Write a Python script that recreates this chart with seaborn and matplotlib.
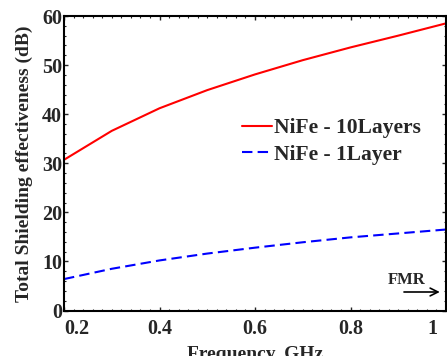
import matplotlib
matplotlib.use("Agg")
import matplotlib.pyplot as plt
import matplotlib.transforms as mtransforms
from matplotlib.ticker import MultipleLocator
import seaborn as sns
import pandas as pd

freq = [0.2, 0.3, 0.4, 0.5, 0.6, 0.7, 0.8, 0.9, 1.0]
se_10layers = [30.7, 36.6, 41.2, 44.9, 48.1, 51.0, 53.6, 56.0, 58.5]
se_1layer = [6.4, 8.5, 10.2, 11.6, 12.8, 13.9, 14.9, 15.7, 16.5]
labels = ["NiFe - 10Layers", "NiFe - 1Layer"]
xticks = [0.2, 0.4, 0.6, 0.8, 1.0]
xticklabels = ["0.2", "0.4", "0.6", "0.8", "1"]
yticks = [0, 10, 20, 30, 40, 50, 60]

sns.set_style("ticks")
plt.rcParams["font.family"] = ["Liberation Serif", "DejaVu Serif"]
plt.rcParams["font.weight"] = "bold"
plt.rcParams["axes.labelweight"] = "bold"

df10 = pd.DataFrame({"f": freq, "se": se_10layers})
df1 = pd.DataFrame({"f": freq, "se": se_1layer})

fig = plt.figure(figsize=(4.47, 3.56), dpi=100)
ax = fig.add_axes([64/447, 1 - 310.5/356, (446 - 64)/447, (310.5 - 16)/356])

sns.lineplot(data=df10, x="f", y="se", ax=ax, color="#ff0000", lw=1.5, label=labels[0])
sns.lineplot(data=df1, x="f", y="se", ax=ax, color="#0000ff", lw=1.5,
             label=labels[1], linestyle=(0, (5, 2.5)))

ax.set_xlim(0.2, 1.0)
ax.set_ylim(0, 60)
ax.set_xticks(xticks)
ax.set_xticklabels(xticklabels)
ax.set_yticks(yticks)
ax.xaxis.set_minor_locator(MultipleLocator(0.02))
ax.yaxis.set_minor_locator(MultipleLocator(2))
ax.tick_params(which="both", direction="in", top=True, right=True, labelsize=14.5)
ax.tick_params(which="major", length=3, width=1)
ax.tick_params(which="minor", length=1.5, width=0.8)
ax.tick_params(axis="x", pad=6)
ax.tick_params(axis="y", pad=1.5)
for s in ax.spines.values():
    s.set_linewidth(1.5)
    s.set_color("black")

for t in ax.get_xticklabels() + ax.get_yticklabels():
    t.set_fontweight("bold")
tl = ax.get_xticklabels()
tl[0].set_ha("left")
tl[-1].set_ha("right")
tl[-1].set_transform(tl[-1].get_transform() + mtransforms.ScaledTranslation(-9/100, 0, fig.dpi_scale_trans))

ax.set_xlabel("Frequency, GHz", fontsize=14, fontweight="bold", labelpad=5)
ax.set_ylabel("Total Shielding effectiveness (dB)", fontsize=14, fontweight="bold", labelpad=6)

leg = ax.legend(loc="upper left", bbox_to_anchor=(0.466, 0.653), frameon=False,
                borderaxespad=0, borderpad=0, handlelength=1.4, handletextpad=0.1,
                labelspacing=0.29, prop={"size": 15.5, "weight": "bold"})

ax.annotate("", xy=(0.987, 3.77), xytext=(0.912, 3.77),
            arrowprops=dict(arrowstyle="->", color="black", lw=1.2, mutation_scale=14,
                            shrinkA=0, shrinkB=0))
ax.text(0.918, 6.3, "FMR", fontsize=12, fontweight="bold", ha="center", va="center")

fig.savefig("out.png", dpi=100)
